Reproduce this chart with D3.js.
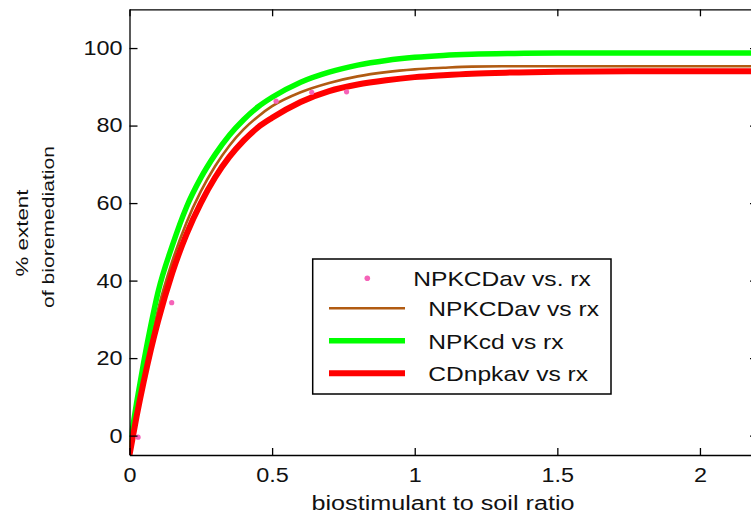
<!DOCTYPE html>
<html><head><meta charset="utf-8">
<script src="https://cdn.jsdelivr.net/npm/d3@7"></script>
<style>html,body{margin:0;padding:0;background:#fff;overflow:hidden}
text{font-family:"Liberation Sans",Arial,sans-serif;fill:#111}</style>
</head><body><svg id="c" width="751" height="518"></svg>
<script>
// ---- data ----
const rx    = [0, 0.025, 0.05, 0.075, 0.1, 0.15, 0.2, 0.25, 0.3, 0.35, 0.4, 0.45, 0.5, 0.6, 0.7, 0.8, 0.9, 1.0, 1.1, 1.2, 1.35, 1.5, 1.75, 2.0, 2.2];
const npkcdAvY = [-4, 6.5, 16, 24.5, 32.5, 45, 55, 63, 69.5, 74.8, 79, 82.3, 85, 88.6, 91, 92.7, 93.8, 94.5, 94.9, 95.2, 95.3, 95.3, 95.3, 95.3, 95.3];
const npkcdY   = [-3, 8.5, 19, 28.5, 37, 49, 59, 66.5, 72.5, 77.5, 81.5, 84.8, 87.3, 91.2, 93.8, 95.6, 96.8, 97.6, 98.1, 98.4, 98.6, 98.7, 98.7, 98.7, 98.7];
const cdnpkY   = [-5, 5, 14, 22.2, 29.5, 42, 52, 60, 66.6, 71.9, 76.1, 79.5, 82, 86.1, 88.9, 90.6, 91.7, 92.5, 93.0, 93.4, 93.7, 93.9, 94.0, 94.0, 94.0];
const dotX = [0.03, 0.148, 0.514, 0.639, 0.761];
const dotY = [-0.4, 34.3, 86.3, 88.6, 88.7];
const xTicks = [0, 0.5, 1, 1.5, 2];
const xTickLabels = ["0", "0.5", "1", "1.5", "2"];
const yTicks = [0, 20, 40, 60, 80, 100];
const yTickLabels = ["0", "20", "40", "60", "80", "100"];
const legendLabels = ["NPKCDav vs. rx", "NPKCDav vs rx", "NPKcd vs rx", "CDnpkav vs rx"];
const xTitle = "biostimulant to soil ratio";
const yTitle = ["% extent", "of bioremediation"];

// ---- layout ----
const L = 129.5, R = 757, T = 9.3, B = 455;
const svg = d3.select("#c");
const x = d3.scaleLinear().domain([0, 2.2]).range([L, R]);
const y = d3.scaleLinear().domain([-5, 110]).range([B, T]);

function stretch(sel, f) {
  sel.each(function () {
    const w = this.getComputedTextLength();
    d3.select(this).attr("textLength", w * f).attr("lengthAdjust", "spacingAndGlyphs");
  });
}

svg.append("clipPath").attr("id", "clip").append("rect")
  .attr("x", L).attr("y", T).attr("width", R - L).attr("height", B - T);

const g = svg.append("g").attr("clip-path", "url(#clip)");
const line = d3.line().x(d => x(d[0])).y(d => y(d[1])).curve(d3.curveMonotoneX);
const series = [
  {ys: npkcdAvY, color: "#b15b12", w: 2.6},
  {ys: npkcdY, color: "#00ff00", w: 5.5},
  {ys: cdnpkY, color: "#ff0000", w: 6}
];
series.forEach(s => {
  g.append("path").datum(rx.map((v, i) => [v, s.ys[i]]))
    .attr("fill", "none").attr("stroke", s.color).attr("stroke-width", s.w)
    .attr("d", line);
});
g.selectAll("circle.dot").data(dotX.map((v, i) => [v, dotY[i]])).enter()
  .append("circle").attr("class", "dot")
  .attr("cx", d => x(d[0])).attr("cy", d => y(d[1])).attr("r", 2.6)
  .attr("fill", "#f563b8");

// ---- axes ----
const fs = 20;
const ax = svg.append("g").attr("transform", `translate(0,${B})`)
  .call(d3.axisBottom(x).tickValues(xTicks).tickFormat((d, i) => xTickLabels[i])
    .tickSize(-7).tickSizeOuter(0).tickPadding(12.5));
const ay = svg.append("g").attr("transform", `translate(${L},0)`)
  .call(d3.axisLeft(y).tickValues(yTicks).tickFormat((d, i) => yTickLabels[i])
    .tickSize(-8).tickSizeOuter(0).tickPadding(7));
const at = svg.append("g").attr("transform", `translate(0,${T})`)
  .call(d3.axisTop(x).tickValues(xTicks).tickFormat("").tickSize(-7).tickSizeOuter(0));
const ar = svg.append("g").attr("transform", `translate(${R},0)`)
  .call(d3.axisRight(y).tickValues(yTicks).tickFormat("").tickSize(-7).tickSizeOuter(0));
[ax, ay, at, ar].forEach(a => {
  a.selectAll("path.domain").attr("stroke", "#000").attr("stroke-width", 1.3);
  a.selectAll("line").attr("stroke", "#000").attr("stroke-width", 1.3);
  a.selectAll("text").attr("font-size", fs).attr("font-family", null).style("fill", "#111");
});
stretch(ax.selectAll("text"), 1.17);
stretch(ay.selectAll("text"), 1.17);

// ---- titles ----
svg.append("text").attr("x", 443).attr("y", 510).attr("text-anchor", "middle")
  .attr("font-size", 20).text(xTitle)
  .attr("textLength", 263).attr("lengthAdjust", "spacingAndGlyphs");
const yt = svg.append("g").attr("transform", "translate(0,230) rotate(-90)");
yt.append("text").attr("x", -3).attr("y", 28).attr("text-anchor", "middle")
  .attr("font-size", 17).text(yTitle[0]).attr("textLength", 87).attr("lengthAdjust", "spacingAndGlyphs");
yt.append("text").attr("x", 3).attr("y", 54).attr("text-anchor", "middle")
  .attr("font-size", 17).text(yTitle[1]).attr("textLength", 162).attr("lengthAdjust", "spacingAndGlyphs");

// ---- legend ----
const lg = svg.append("g");
lg.append("rect").attr("x", 312.7).attr("y", 259).attr("width", 298.3).attr("height", 135)
  .attr("fill", "#fff").attr("stroke", "#000").attr("stroke-width", 1.5);
const rows = [278.3, 308.3, 340.7, 373.3];
lg.append("circle").attr("cx", 367.3).attr("cy", rows[0]).attr("r", 2.8).attr("fill", "#f563b8");
series.forEach((s, i) => {
  lg.append("line").attr("x1", 329).attr("x2", 405).attr("y1", rows[i + 1]).attr("y2", rows[i + 1])
    .attr("stroke", s.color).attr("stroke-width", s.w);
});
const lt = lg.selectAll("text.lg").data(legendLabels).enter().append("text").attr("class", "lg")
  .attr("x", (d, i) => i === 0 ? 413.3 : 428.3).attr("y", (d, i) => rows[i] + 8)
  .attr("font-size", 21).text(d => d);
stretch(lt, 1.17);
</script></body></html>
